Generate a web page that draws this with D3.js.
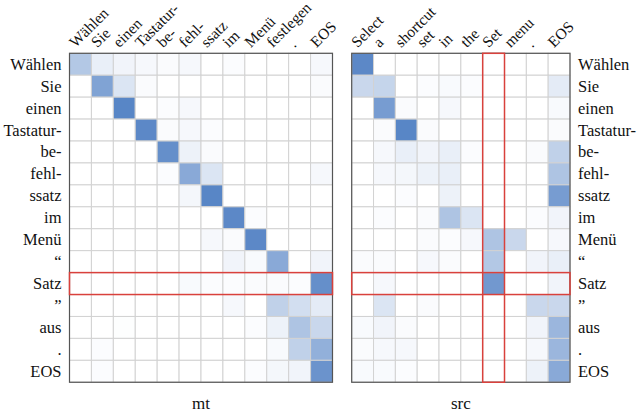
<!DOCTYPE html>
<html><head><meta charset="utf-8">
<script src="https://cdn.jsdelivr.net/npm/d3@7/dist/d3.min.js"></script>
</head><body style="margin:0;background:#fff">
<svg id="chart" width="640" height="413"></svg>
<script>
const rowLabels = ["Wählen","Sie","einen","Tastatur-","be-","fehl-","ssatz","im","Menü","“","Satz","”","aus",".","EOS"];
const mtCols = ["Wählen","Sie","einen","Tastatur-","be-","fehl-","ssatz","im","Menü","festlegen",".","EOS"];
const srcCols = ["Select","a","shortcut","set","in","the","Set","menu",".","EOS"];
const mtValues = [
 [0.42,0.12,0.08,0.05,0.03,0.05,0,0.02,0,0,0,0.05],
 [0,0.70,0.20,0.03,0,0,0,0,0,0,0,0.03],
 [0,0,0.92,0,0.02,0.05,0,0,0,0,0,0],
 [0,0,0,0.90,0.03,0.05,0.02,0,0,0,0,0],
 [0,0,0,0,0.85,0.10,0.03,0,0,0,0,0],
 [0,0,0,0,0.02,0.65,0.20,0,0,0,0,0.05],
 [0,0,0,0,0,0.06,0.92,0,0,0,0,0],
 [0,0,0,0,0,0,0,0.90,0.02,0,0,0],
 [0,0,0,0,0,0,0.05,0.03,0.90,0,0,0],
 [0,0,0,0,0,0,0,0.08,0.04,0.65,0,0.08],
 [0,0,0,0,0,0.04,0.02,0.02,0.03,0.03,0.02,0.85],
 [0,0,0,0,0,0,0,0.05,0,0.35,0.25,0.15],
 [0,0,0.01,0,0,0,0,0,0.02,0.10,0.45,0.30],
 [0,0.02,0,0,0,0,0,0,0,0.04,0.35,0.60],
 [0,0.02,0,0,0,0,0,0,0.02,0.06,0.08,0.82]
];
const srcValues = [
 [0.90,0,0,0,0,0,0,0,0,0],
 [0.30,0.32,0,0.02,0.04,0.02,0,0,0,0.15],
 [0,0.75,0.03,0,0.05,0,0,0,0,0.04],
 [0,0.03,0.92,0.03,0,0,0,0,0,0.03],
 [0,0.05,0.12,0.08,0.12,0.02,0,0,0.03,0.35],
 [0,0.05,0.06,0.10,0.12,0,0,0,0,0.45],
 [0,0,0.02,0,0.10,0,0,0,0,0.75],
 [0,0.02,0,0.03,0.45,0.20,0,0,0.02,0.08],
 [0,0,0,0.03,0.02,0.05,0.45,0.30,0,0.05],
 [0.03,0.03,0,0.05,0.03,0,0.42,0,0.08,0.12],
 [0,0.05,0,0,0,0,0.78,0,0,0.08],
 [0,0.20,0,0.03,0,0,0,0,0.30,0.30],
 [0.04,0.08,0.03,0,0,0,0,0,0.08,0.55],
 [0.03,0.05,0.05,0,0,0,0,0,0.05,0.55],
 [0.04,0.04,0.02,0,0,0,0,0,0.10,0.65]
];
const panelTitles = ["mt","src"];
const hlRow = "Satz", hlSrcCol = "Set";

const FONT = "Liberation Serif";
const svg = d3.select("#chart");
const color = d3.scaleLinear().domain([0,1]).range(["#ffffff","#4a7bc1"]);
const gridTop = 53.3, cellSize = 21.93;
const yScale = d3.scaleBand().domain(rowLabels.map((d,i)=>i)).range([gridTop, gridTop + cellSize*rowLabels.length]);

function drawPanel(cols, vals, x0, x1, labelSide, title, hlCol) {
  const xScale = d3.scaleBand().domain(cols.map((d,i)=>i)).range([x0, x1]);
  const g = svg.append("g");
  vals.forEach((row, r) => row.forEach((v, c) => {
    g.append("rect").attr("x", xScale(c)).attr("y", yScale(r)).attr("width", xScale.bandwidth()).attr("height", yScale.bandwidth())
     .attr("fill", color(v)).attr("stroke", "#d2d2d2").attr("stroke-width", 1);
  }));
  g.append("rect").attr("x", x0).attr("y", yScale.range()[0]).attr("width", x1-x0).attr("height", yScale.range()[1]-yScale.range()[0])
   .attr("fill","none").attr("stroke","#555").attr("stroke-width",1.2);
  cols.forEach((t, c) => {
    const cx = xScale(c) + xScale.bandwidth()/2 - 5, cy = gridTop - 5;
    g.append("text").attr("x", cx).attr("y", cy).attr("transform", "rotate(-45," + cx + "," + cy + ")")
      .attr("font-family", FONT).attr("fill", "#111").attr("font-size", 15.5).text(t);
  });
  rowLabels.forEach((t, r) => {
    const ty = yScale(r) + yScale.bandwidth()/2 + 5.5;
    const tt = g.append("text").attr("font-family", FONT).attr("fill", "#111").attr("font-size", 16.5).attr("y", ty).text(t);
    if (labelSide === "left") tt.attr("x", x0 - 8).attr("text-anchor","end");
    else tt.attr("x", x1 + 8);
  });
  g.append("text").attr("font-family", FONT).attr("fill", "#111").attr("x", (x0+x1)/2).attr("y", 409)
   .attr("text-anchor","middle").attr("font-size",17).text(title);
  const ri = rowLabels.indexOf(hlRow);
  g.append("rect").attr("x", x0).attr("y", yScale(ri)).attr("width", x1-x0).attr("height", yScale.bandwidth())
   .attr("fill","none").attr("stroke","#d9413c").attr("stroke-width",1.5);
  if (hlCol) {
    const ci = cols.indexOf(hlCol);
    g.append("rect").attr("x", xScale(ci)).attr("y", yScale.range()[0]).attr("width", xScale.bandwidth()).attr("height", yScale.range()[1]-yScale.range()[0])
     .attr("fill","none").attr("stroke","#d9413c").attr("stroke-width",1.5);
  }
}
drawPanel(mtCols, mtValues, 69.5, 332.5, "left", panelTitles[0], null);
drawPanel(srcCols, srcValues, 351.7, 570, "right", panelTitles[1], hlSrcCol);
</script></body></html>
